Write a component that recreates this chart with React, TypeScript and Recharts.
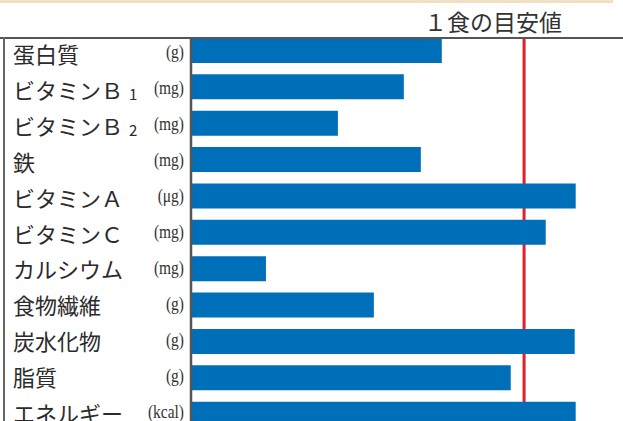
import React from 'react';
import { BarChart, Bar, XAxis, YAxis, ReferenceLine } from 'recharts';

// 栄養素ごとの充足率（1食の目安値 = 100）
const categories = ['蛋白質', 'ビタミンＢ1', 'ビタミンＢ2', '鉄', 'ビタミンＡ', 'ビタミンＣ', 'カルシウム', '食物繊維', '炭水化物', '脂質', 'エネルギー'];
const units = ['(g)', '(mg)', '(mg)', '(mg)', '(μg)', '(mg)', '(mg)', '(g)', '(g)', '(g)', '(kcal)'];
const ratios = [75.3, 63.9, 44.1, 69.0, 115.5, 106.5, 22.5, 54.9, 115.2, 96.0, 115.5];
const targetValue = 100;
const titleText = '１食の目安値';

const data = categories.map((name, i) => ({ name, unit: units[i], value: ratios[i] }));

const JP_FONT = '"Noto Sans CJK JP", "Noto Sans", sans-serif';
const UNIT_FONT = '"Liberation Serif", "DejaVu Serif", serif';

const NutrientTick = (props: any) => {
  const { y, payload } = props;
  const name: string = payload.value;
  const idx = categories.indexOf(name);
  const m = name.match(/^(.*Ｂ)(\d)$/);
  // the label column is set a little tighter than the bars
  const labelY = y + 3 - 0.5 * idx;
  const unitY = y + 1.5 - 0.35 * idx;
  return (
    <g>
      <text x={13} y={labelY} dominantBaseline="central" fontSize={22} fontFamily={JP_FONT} fill="#2b2b2b">
        {m ? (
          <>
            {m[1]}
            <tspan dx={6} dy={4} fontSize={15}>{m[2]}</tspan>
          </>
        ) : (
          name
        )}
      </text>
      <text
        transform={`translate(184, ${unitY}) scale(0.86, 1)`}
        x={0}
        y={0}
        dominantBaseline="central"
        textAnchor="end"
        fontSize={18}
        fontFamily={UNIT_FONT}
        fill="#333"
      >
        {units[idx]}
      </text>
    </g>
  );
};

export default function App() {
  return (
    <div style={{ position: 'fixed', left: 0, top: 0, width: 623, height: 421, overflow: 'hidden', background: '#fff' }}>
      <div style={{ position: 'absolute', left: 0, top: 0, width: 613, height: 3, background: '#f1dfc3' }} />
      <div
        style={{
          position: 'absolute',
          left: 424,
          top: 6,
          fontSize: 23,
          lineHeight: '30px',
          fontFamily: JP_FONT,
          color: '#333',
          whiteSpace: 'nowrap',
        }}
      >
        {titleText}
      </div>
      <div style={{ position: 'absolute', left: 0, top: 39, width: 623, height: 382, overflow: 'hidden' }}>
        <div style={{ position: 'absolute', left: 0, top: -7 }}>
          <BarChart
            width={624}
            height={400}
            data={data}
            layout="vertical"
            margin={{ top: 0, right: 0, bottom: 0, left: 0 }}
            barSize={25}
          >
            <XAxis type="number" domain={[0, 130]} hide />
            <YAxis
              type="category"
              dataKey="name"
              width={191}
              tickLine={false}
              axisLine={{ stroke: '#555', strokeWidth: 2.5 }}
              tick={<NutrientTick />}
              interval={0}
            />
            <ReferenceLine x={targetValue} stroke="#e41e26" strokeWidth={3} zIndex={100} />
            <Bar dataKey="value" fill="#006fba" isAnimationActive={false} />
          </BarChart>
        </div>
      </div>
      <div style={{ position: 'absolute', left: 0, top: 37, width: 623, height: 2, background: '#555' }} />
      <div style={{ position: 'absolute', left: 3, top: 37, width: 2, height: 384, background: '#666' }} />
    </div>
  );
}
